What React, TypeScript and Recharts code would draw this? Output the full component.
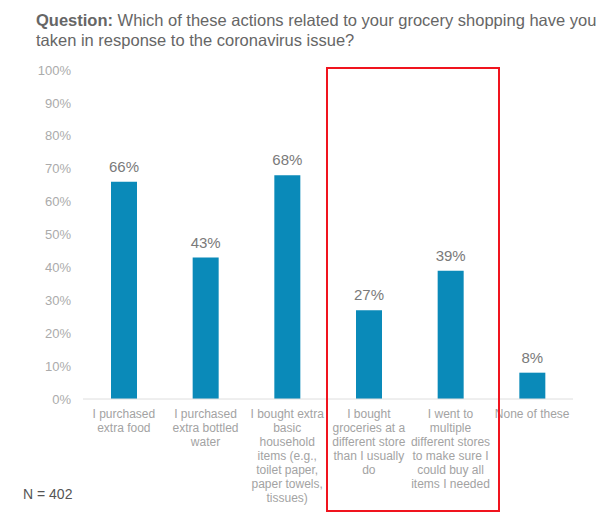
import { BarChart, Bar, XAxis, YAxis, LabelList } from 'recharts'

const categories = [
  'I purchased\nextra food',
  'I purchased\nextra bottled\nwater',
  'I bought extra\nbasic\nhousehold\nitems (e.g.,\ntoilet paper,\npaper towels,\ntissues)',
  'I bought\ngroceries at a\ndifferent store\nthan I usually\ndo',
  'I went to\nmultiple\ndifferent stores\nto make sure I\ncould buy all\nitems I needed',
  'None of these',
]
const values = [66, 43, 68, 27, 39, 8]
const yTicks = [0, 10, 20, 30, 40, 50, 60, 70, 80, 90, 100]

const data = categories.map((c, i) => ({ name: c, value: values[i] }))

const FONT = '"Liberation Sans", Arial, Helvetica, sans-serif'

const CategoryTick = ({ x, y, payload }: any) => {
  const lines = String(payload.value).split('\n')
  return (
    <text x={x} y={y} textAnchor="middle" fontSize={12} fill="#a3a3a3" fontFamily={FONT}>
      {lines.map((l, i) => (
        <tspan key={i} x={x} dy={i === 0 ? 19 : 14}>{l}</tspan>
      ))}
    </text>
  )
}

export default function App() {
  return (
    <div style={{ position: 'absolute', left: 0, top: 0, width: 610, height: 524, background: '#fff', fontFamily: FONT }}>
      <div style={{ position: 'absolute', left: 36, top: 10, width: 574, fontSize: 16.5, lineHeight: '20px', color: '#666', whiteSpace: 'nowrap' }}>
        <div><b>Question:</b> Which of these actions related to your grocery shopping have you</div>
        <div>taken in response to the coronavirus issue?</div>
      </div>

      <BarChart width={610} height={524} data={data} margin={{ top: 70, right: 37, left: 33, bottom: 15 }}>
        <XAxis dataKey="name" interval={0} height={110} tickLine={false} tickSize={0} tickMargin={0}
          axisLine={{ stroke: '#dedede' }} tick={<CategoryTick />} />
        <YAxis width={50} domain={[0, 100]} ticks={yTicks} axisLine={false} tickLine={false} tickSize={0} tickMargin={12}
          tick={{ fontSize: 13, fill: '#ababab', fontFamily: FONT }} tickFormatter={v => `${v}%`} />
        <Bar dataKey="value" fill="#0a8ab9" barSize={26} isAnimationActive={false}>
          <LabelList dataKey="value" position="top" offset={10} formatter={(v: any) => `${v}%`}
            style={{ fontSize: 15, fill: '#7a7a7a', fontFamily: FONT }} />
        </Bar>
      </BarChart>

      <div style={{ position: 'absolute', left: 326, top: 67, width: 170, height: 441, border: '2px solid #f0141e' }} />

      <div style={{ position: 'absolute', left: 23, top: 486, fontSize: 14, color: '#555' }}>N = 402</div>
    </div>
  )
}
